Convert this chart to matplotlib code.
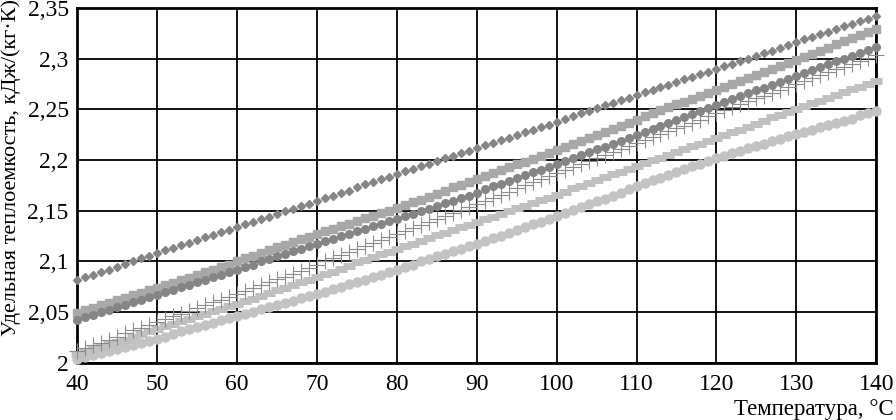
import matplotlib
matplotlib.use("Agg")
import matplotlib.pyplot as plt
from matplotlib.ticker import FuncFormatter

plt.rcParams['font.family'] = ['Liberation Serif', 'DejaVu Serif']

# temperature, °C (one point per degree)
temp = list(range(40, 141))

# specific heat, kJ/(kg*K)
diamonds = [
    2.082, 2.085, 2.087, 2.090, 2.092, 2.095, 2.098, 2.100, 2.103, 2.105,
    2.108, 2.111, 2.113, 2.116, 2.118, 2.121, 2.124, 2.126, 2.129, 2.131,
    2.134, 2.137, 2.139, 2.142, 2.144, 2.147, 2.150, 2.152, 2.155, 2.157,
    2.160, 2.163, 2.165, 2.168, 2.170, 2.173, 2.176, 2.178, 2.181, 2.183,
    2.186, 2.189, 2.191, 2.194, 2.196, 2.199, 2.202, 2.204, 2.207, 2.209,
    2.212, 2.215, 2.217, 2.220, 2.222, 2.225, 2.228, 2.230, 2.233, 2.235,
    2.238, 2.241, 2.243, 2.246, 2.248, 2.251, 2.254, 2.256, 2.259, 2.261,
    2.264, 2.267, 2.269, 2.272, 2.274, 2.277, 2.280, 2.282, 2.285, 2.287,
    2.290, 2.293, 2.295, 2.298, 2.300, 2.303, 2.306, 2.308, 2.311, 2.313,
    2.316, 2.319, 2.321, 2.324, 2.326, 2.329, 2.332, 2.334, 2.337, 2.339,
    2.342]
squares = [
    2.049, 2.052, 2.054, 2.057, 2.059, 2.062, 2.064, 2.067, 2.069, 2.072,
    2.074, 2.077, 2.079, 2.082, 2.084, 2.087, 2.090, 2.092, 2.095, 2.097,
    2.100, 2.103, 2.105, 2.108, 2.111, 2.114, 2.116, 2.119, 2.122, 2.124,
    2.127, 2.130, 2.132, 2.135, 2.137, 2.140, 2.143, 2.145, 2.148, 2.150,
    2.153, 2.156, 2.159, 2.161, 2.164, 2.167, 2.170, 2.173, 2.175, 2.178,
    2.181, 2.184, 2.187, 2.190, 2.193, 2.196, 2.198, 2.201, 2.204, 2.207,
    2.210, 2.213, 2.216, 2.219, 2.222, 2.225, 2.228, 2.231, 2.234, 2.237,
    2.240, 2.243, 2.246, 2.249, 2.252, 2.255, 2.257, 2.260, 2.263, 2.266,
    2.269, 2.272, 2.275, 2.278, 2.281, 2.284, 2.287, 2.290, 2.293, 2.296,
    2.299, 2.302, 2.305, 2.308, 2.311, 2.314, 2.317, 2.320, 2.323, 2.326,
    2.329]
circles_dark = [
    2.042, 2.045, 2.047, 2.050, 2.052, 2.055, 2.057, 2.060, 2.062, 2.065,
    2.067, 2.070, 2.072, 2.075, 2.077, 2.080, 2.082, 2.085, 2.087, 2.090,
    2.092, 2.095, 2.097, 2.100, 2.102, 2.105, 2.107, 2.110, 2.112, 2.115,
    2.117, 2.120, 2.122, 2.125, 2.127, 2.130, 2.132, 2.135, 2.137, 2.140,
    2.142, 2.145, 2.147, 2.150, 2.152, 2.155, 2.158, 2.160, 2.163, 2.165,
    2.168, 2.171, 2.174, 2.176, 2.179, 2.182, 2.185, 2.188, 2.190, 2.193,
    2.196, 2.199, 2.202, 2.205, 2.208, 2.211, 2.213, 2.216, 2.219, 2.222,
    2.225, 2.228, 2.231, 2.234, 2.237, 2.240, 2.242, 2.245, 2.248, 2.251,
    2.254, 2.257, 2.260, 2.263, 2.266, 2.269, 2.271, 2.274, 2.277, 2.280,
    2.283, 2.286, 2.289, 2.292, 2.295, 2.298, 2.300, 2.303, 2.306, 2.309,
    2.312]
pluses = [
    2.012, 2.015, 2.018, 2.020, 2.023, 2.026, 2.029, 2.032, 2.034, 2.037,
    2.040, 2.043, 2.046, 2.048, 2.051, 2.054, 2.057, 2.060, 2.062, 2.065,
    2.068, 2.071, 2.074, 2.077, 2.080, 2.083, 2.085, 2.088, 2.091, 2.094,
    2.097, 2.100, 2.103, 2.106, 2.109, 2.112, 2.115, 2.118, 2.121, 2.124,
    2.127, 2.130, 2.133, 2.136, 2.139, 2.142, 2.145, 2.148, 2.151, 2.154,
    2.157, 2.160, 2.163, 2.166, 2.169, 2.172, 2.175, 2.178, 2.181, 2.184,
    2.187, 2.190, 2.193, 2.196, 2.199, 2.202, 2.205, 2.208, 2.211, 2.214,
    2.217, 2.220, 2.223, 2.226, 2.229, 2.232, 2.234, 2.237, 2.240, 2.243,
    2.246, 2.249, 2.252, 2.255, 2.258, 2.261, 2.263, 2.266, 2.269, 2.272,
    2.275, 2.278, 2.281, 2.284, 2.287, 2.290, 2.292, 2.295, 2.298, 2.301,
    2.304]
dashes_light = [
    2.009, 2.011, 2.014, 2.016, 2.019, 2.021, 2.023, 2.026, 2.028, 2.031,
    2.033, 2.036, 2.038, 2.041, 2.043, 2.046, 2.048, 2.051, 2.053, 2.056,
    2.058, 2.061, 2.063, 2.066, 2.069, 2.072, 2.074, 2.077, 2.080, 2.082,
    2.085, 2.088, 2.090, 2.093, 2.096, 2.099, 2.101, 2.104, 2.107, 2.109,
    2.112, 2.115, 2.117, 2.120, 2.123, 2.126, 2.128, 2.131, 2.134, 2.136,
    2.139, 2.142, 2.144, 2.147, 2.150, 2.153, 2.155, 2.158, 2.161, 2.163,
    2.166, 2.169, 2.172, 2.174, 2.177, 2.180, 2.183, 2.186, 2.188, 2.191,
    2.194, 2.197, 2.200, 2.202, 2.205, 2.208, 2.211, 2.214, 2.216, 2.219,
    2.222, 2.225, 2.228, 2.230, 2.233, 2.236, 2.239, 2.242, 2.244, 2.247,
    2.250, 2.253, 2.256, 2.258, 2.261, 2.264, 2.267, 2.270, 2.272, 2.275,
    2.278]
circles_light = [
    2.004, 2.006, 2.008, 2.010, 2.012, 2.014, 2.016, 2.018, 2.020, 2.022,
    2.024, 2.026, 2.028, 2.031, 2.033, 2.035, 2.037, 2.039, 2.042, 2.044,
    2.046, 2.048, 2.050, 2.053, 2.055, 2.057, 2.059, 2.061, 2.064, 2.066,
    2.068, 2.070, 2.073, 2.075, 2.078, 2.080, 2.082, 2.085, 2.087, 2.090,
    2.092, 2.095, 2.097, 2.100, 2.102, 2.105, 2.107, 2.110, 2.112, 2.115,
    2.117, 2.120, 2.123, 2.125, 2.128, 2.131, 2.134, 2.137, 2.139, 2.142,
    2.145, 2.148, 2.151, 2.154, 2.157, 2.160, 2.162, 2.165, 2.168, 2.171,
    2.174, 2.177, 2.180, 2.182, 2.185, 2.188, 2.191, 2.194, 2.196, 2.199,
    2.202, 2.204, 2.207, 2.209, 2.212, 2.214, 2.216, 2.219, 2.221, 2.224,
    2.226, 2.228, 2.230, 2.233, 2.235, 2.237, 2.239, 2.241, 2.244, 2.246,
    2.248]

x_ticks = [40, 50, 60, 70, 80, 90, 100, 110, 120, 130, 140]
y_ticks = [2.0, 2.05, 2.1, 2.15, 2.2, 2.25, 2.3, 2.35]

fig = plt.figure(figsize=(8.96, 4.2), dpi=100)
ax = fig.add_axes([0.086, 0.136, 0.892, 0.845])

ax.plot(temp, circles_light, ls='none', marker='o', ms=6.5, mfc='#c3c3c3', mec='#c3c3c3', clip_on=False, zorder=3)
ax.plot(temp, dashes_light, ls='none', marker='_', ms=8, mew=5, mec='#c0c0c0', clip_on=False, zorder=3)
ax.plot(temp, pluses, ls='none', marker='+', ms=11, mew=0.8, mec='#8c8c8c', clip_on=False, zorder=3)
ax.plot(temp, squares, ls='none', marker='s', ms=5.5, mfc='#a8a8a8', mec='#a8a8a8', clip_on=False, zorder=3)
ax.plot(temp, circles_dark, ls='none', marker='o', ms=5.5, mfc='#858585', mec='#858585', clip_on=False, zorder=3)
ax.plot(temp, diamonds, ls='none', marker='D', ms=4.3, mfc='#858585', mec='#858585', clip_on=False, zorder=3)

ax.set_xlim(40, 140)
ax.set_ylim(2.0, 2.35)
ax.set_xticks(x_ticks)
ax.set_yticks(y_ticks)
ax.yaxis.set_major_formatter(FuncFormatter(lambda v, p: ('%g' % v).replace('.', ',')))
ax.tick_params(axis='y', length=0, labelsize=17, pad=6)
ax.tick_params(axis='x', length=0, labelsize=17, pad=8)
ax.grid(True, color='black', lw=1.3)
ax.set_axisbelow(True)
for s in ax.spines.values():
    s.set_linewidth(2)
    s.set_color('black')

ax.set_ylabel('Удельная теплоемкость, кДж/(кг·К)', fontsize=16)
ax.yaxis.set_label_coords(-0.07, 0.55)
fig.text(0.997, 0.0, 'Температура, °С', ha='right', va='bottom', fontsize=16.5)

fig.savefig('out.png', dpi=100)
